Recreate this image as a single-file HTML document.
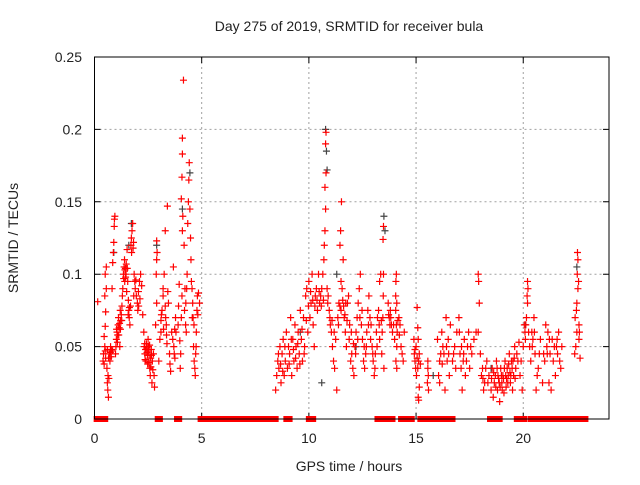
<!DOCTYPE html>
<html><head><meta charset="utf-8"><style>
body{margin:0;background:#fff;font-family:"Liberation Sans",sans-serif}
svg text{font-family:"Liberation Sans",sans-serif;font-size:14px;fill:#222}
</style></head><body>
<svg id="chart" width="640" height="480" xmlns="http://www.w3.org/2000/svg">
<rect width="640" height="480" fill="#fff"/>
<text x="349" y="31" text-anchor="middle">Day 275 of 2019, SRMTID for receiver bula</text>
<text x="349" y="471" text-anchor="middle">GPS time / hours</text>
<text transform="translate(18,238) rotate(-90)" text-anchor="middle">SRMTID / TECUs</text>
<g id="grid"></g>
<g id="ticks"></g>
<g id="zeros"></g>
<g id="blk"></g>
<g id="red"></g>
<rect x="94.5" y="57" width="514.5" height="362" fill="none" stroke="#000" stroke-width="1"/>
</svg>
<script>
const xTicks=[0,5,10,15,20];
const yTicks=[0,0.05,0.1,0.15,0.2,0.25];
const yTickLabels=["0","0.05","0.1","0.15","0.2","0.25"];
const zeroStart=[0.1,2.95,3.85,4.95,8.95,10.0,13.2,13.45,14.3,15.2,16.0,18.45,18.7,19.7,19.95,20.35,20.6,20.85,21.25,21.7,22.6];
const zeroEnd=[0.5,3.05,3.95,8.45,9.1,10.2,13.4,13.9,14.8,15.9,16.7,18.6,18.9,19.9,20.05,20.55,20.75,21.15,21.45,22.35,22.9];
const redPoints=[[0.15,.081],[0.4,.04],[0.42,.045],[0.45,.038],[0.48,.05],[0.5,.047],[0.52,.042],[0.45,.057],[0.5,.064],[0.52,.074],[0.48,.085],[0.55,.09],[0.5,.1],[0.55,.105],[0.58,.035],[0.6,.025],[0.62,.02],[0.65,.015],[0.63,.03],[0.67,.028],[0.7,.045],[0.72,.04],[0.75,.05],[0.78,.043],[0.8,.048],[0.82,.09],[0.85,.108],[0.88,.115],[0.9,.122],[0.92,.133],[0.95,.14],[0.93,.138],[0.98,.045],[1.0,.05],[1.02,.055],[1.05,.06],[1.08,.058],[1.1,.065],[1.12,.07],[1.15,.063],[1.18,.05],[1.2,.075],[1.22,.068],[1.25,.072],[1.28,.078],[1.3,.085],[1.32,.09],[1.35,.1],[1.38,.105],[1.4,.11],[1.42,.103],[1.45,.098],[1.48,.107],[1.5,.088],[1.52,.117],[1.55,.095],[1.58,.082],[1.6,.075],[1.62,.07],[1.65,.065],[1.68,.078],[1.7,.12],[1.72,.125],[1.75,.13],[1.78,.135],[1.8,.118],[1.82,.122],[1.85,.1],[1.88,.095],[1.9,.09],[1.95,.085],[2.0,.08],[2.02,.075],[2.05,.088],[2.1,.095],[2.15,.1],[2.2,.092],[2.25,.072],[2.3,.06],[2.32,.05],[2.35,.045],[2.38,.048],[2.4,.04],[2.42,.052],[2.45,.046],[2.48,.038],[2.5,.055],[2.52,.05],[2.55,.044],[2.58,.035],[2.6,.03],[2.62,.042],[2.65,.048],[2.68,.025],[2.7,.04],[2.75,.045],[2.78,.03],[2.8,.022],[2.85,.065],[2.9,.08],[2.88,.1],[2.9,.11],[2.92,.115],[2.9,.123],[3.0,.04],[3.05,.055],[3.1,.06],[3.1,.068],[3.15,.075],[3.2,.085],[3.2,.09],[3.25,.1],[3.3,.078],[3.32,.07],[3.35,.065],[3.38,.052],[3.3,.13],[3.4,.147],[3.42,.088],[3.45,.08],[3.5,.045],[3.52,.038],[3.55,.033],[3.6,.06],[3.65,.055],[3.68,.105],[3.7,.05],[3.72,.045],[3.75,.042],[3.78,.07],[3.8,.06],[3.9,.065],[3.92,.078],[3.95,.093],[3.98,.054],[4.0,.035],[4.02,.045],[4.05,.07],[4.08,.085],[4.1,.13],[4.12,.14],[4.05,.152],[4.08,.167],[4.1,.183],[4.1,.194],[4.15,.234],[4.18,.12],[4.2,.075],[4.25,.065],[4.28,.06],[4.3,.09],[4.32,.1],[4.35,.135],[4.38,.15],[4.4,.165],[4.42,.177],[4.45,.145],[4.48,.125],[4.5,.11],[4.52,.095],[4.55,.09],[4.58,.08],[4.6,.07],[4.62,.05],[4.65,.04],[4.68,.035],[4.7,.03],[4.72,.045],[4.75,.06],[4.78,.075],[4.8,.085],[4.85,.087],[4.9,.08],
[0.6,.048],[0.66,.042],[0.74,.046],[0.84,.047],[1.03,.062],[1.07,.053],[1.13,.058],[1.17,.066],[1.21,.062],[1.27,.068],[1.36,.097],[1.41,.095],[1.44,.104],[1.47,.1],[1.53,.104],[1.57,.072],[1.63,.077],[1.73,.115],[1.83,.085],[1.93,.096],[2.06,.078],[2.12,.083],[2.34,.052],[2.36,.041],[2.44,.049],[2.47,.044],[2.51,.047],[2.54,.039],[2.57,.051],[2.63,.036],[2.66,.044],[2.72,.034],[3.12,.072],[3.22,.062],[3.36,.058],[3.74,.062],[4.22,.09],[4.26,.08],[4.56,.07],[4.64,.065],[4.74,.05],[4.82,.072],
[8.45,.02],[8.5,.03],[8.55,.04],[8.6,.035],[8.65,.05],[8.7,.025],[8.75,.045],[8.8,.055],[8.85,.03],[8.9,.04],[8.95,.06],[9.0,.035],[9.05,.05],[9.1,.045],[9.15,.07],[9.2,.03],[9.25,.055],[9.3,.04],[9.35,.065],[9.4,.05],[9.45,.035],[9.5,.06],[9.55,.045],[9.6,.075],[9.65,.055],[9.7,.04],[9.75,.07],[9.8,.05],[9.85,.085],[9.9,.09],[9.95,.06],[10.0,.095],[10.05,.07],[10.1,.08],[10.15,.1],[10.2,.065],[10.25,.05],[10.3,.085],[10.35,.09],[10.4,.075],[10.45,.1],[10.5,.08],[10.55,.085],[10.6,.09],[10.65,.1],[10.7,.11],[10.72,.12],[10.75,.13],[10.78,.145],[10.75,.16],[10.8,.17],[10.78,.19],[10.8,.198],[10.85,.09],[10.9,.085],[10.95,.075],[11.0,.065],[11.05,.06],[11.1,.05],[11.15,.04],[11.2,.035],[11.25,.055],[11.3,.02],[11.35,.07],[11.4,.08],[11.45,.078],[11.5,.075],[11.5,.095],[11.55,.09],[11.45,.12],[11.48,.13],[11.52,.15],[11.6,.11],[11.65,.07],[11.7,.06],[11.75,.05],[11.8,.08],[11.85,.085],[11.9,.065],[11.95,.04],[12.0,.045],[12.05,.035],[12.1,.03],[12.15,.05],[12.2,.06],[12.25,.07],[12.3,.08],[12.35,.09],[12.4,.1],[12.45,.065],[12.5,.055],[12.55,.04],[12.6,.035],[12.65,.045],[12.7,.06],[12.75,.075],[12.8,.085],[12.85,.07],[12.9,.065],[12.95,.05],[13.0,.04],[13.05,.03],[13.1,.045],[13.15,.06],[13.2,.07],[13.25,.075],[13.3,.095],[13.35,.1],[13.3,.055],[13.4,.045],[13.45,.07],[13.47,.085],[13.48,.1],[13.46,.124],[13.48,.133],[13.5,.035],[13.7,.08],[13.75,.07],[13.8,.075],[13.85,.065],[13.9,.06],[14.0,.055],[14.05,.085],[14.08,.1],[14.06,.095],[14.1,.08],[14.05,.075],[14.08,.065],[14.1,.05],[14.06,.04],[14.1,.035],[14.2,.07],[14.25,.065],[14.3,.05],[14.35,.045],[14.4,.04],[14.45,.06],
[8.58,.045],[8.68,.038],[8.78,.033],[8.88,.05],[9.08,.038],[9.18,.055],[9.28,.048],[9.38,.042],[9.48,.052],[9.58,.038],[9.68,.062],[9.78,.045],[9.88,.068],[9.98,.078],[10.08,.088],[10.18,.082],[10.28,.078],[10.38,.082],[10.48,.088],[10.58,.078],[10.68,.082],[10.88,.08],[10.98,.07],[11.08,.068],[11.18,.06],[11.38,.065],[11.58,.082],[11.62,.078],[11.68,.072],[11.72,.08],[11.78,.068],[11.88,.055],[11.98,.06],[12.08,.052],[12.18,.045],[12.28,.055],[12.38,.07],[12.48,.075],[12.58,.05],[12.68,.05],[12.78,.065],[12.88,.055],[12.98,.045],[13.08,.035],[13.18,.05],[13.28,.065],[13.38,.068],[13.42,.06],[13.72,.072],[13.78,.065],[13.82,.07],[13.95,.065],[14.12,.06],[14.15,.068],[14.22,.058],
[14.9,.055],[14.92,.045],[14.95,.04],[14.98,.035],[15.0,.05],[15.02,.03],[15.05,.077],[15.08,.063],[15.1,.055],[15.12,.04],[15.15,.022],[15.1,.015],[15.12,.013],[15.15,.045],[15.2,.038],[15.55,.04],[15.55,.035],[15.57,.03],[15.53,.025],[15.58,.02],[16.0,.055],[16.05,.03],[16.1,.025],[16.1,.04],[16.2,.06],[16.25,.05],[16.3,.045],[16.35,.02],[16.4,.07],[16.45,.04],[16.5,.055],[16.55,.03],[16.6,.065],[16.7,.04],[16.75,.045],[16.8,.05],[16.85,.035],[16.9,.06],[17.0,.07],[17.05,.045],[17.1,.035],[17.15,.02],[17.2,.04],[17.25,.055],[17.3,.03],[17.4,.05],[17.5,.035],[17.6,.045],[17.7,.055],[17.8,.06],[17.9,.1],[17.92,.095],[17.95,.08],[17.9,.06],[18.0,.045],[18.05,.03],[18.1,.035],[18.15,.02],[18.2,.025],[18.3,.04],[18.4,.03],[18.5,.02],[18.55,.035],[18.6,.015],[18.65,.025],[18.7,.03],[18.75,.04],[18.8,.02],[18.85,.028],[18.9,.012],[18.95,.035],[19.0,.025],[19.05,.03],[19.1,.018],[19.15,.04],[19.2,.022],[19.25,.035],[19.3,.03],[19.35,.045],[19.4,.025],[19.45,.04],[19.5,.02],[19.55,.03],[19.6,.05],[19.65,.035],[19.7,.045],[19.8,.053],[19.85,.03],[19.9,.04],[19.95,.02],[20.0,.05],[20.05,.065],[20.1,.055],[20.15,.07],[20.2,.095],[20.22,.09],[20.18,.085],[20.2,.08],[20.25,.06],[20.3,.05],[20.35,.04],[20.4,.06],[20.45,.055],[20.5,.07],[20.55,.045],[20.6,.02],[20.65,.03],[20.7,.035],[20.75,.045],[20.8,.055],[20.9,.025],[21.0,.04],[21.05,.065],[21.1,.05],[21.15,.06],[21.2,.025],[21.25,.045],[21.3,.02],[21.35,.055],[21.4,.04],[21.5,.03],[21.55,.05],[21.6,.045],[21.7,.04],[21.75,.035],[21.8,.05],[22.4,.045],[22.45,.05],[22.5,.06],[22.42,.07],[22.5,.08],[22.55,.09],[22.52,.1],[22.55,.11],[22.53,.115],[22.6,.055],[22.65,.042],[22.6,.065],[22.58,.095],
[14.95,.048],[15.05,.042],[15.08,.035],[16.15,.045],[16.22,.038],[16.42,.05],[16.52,.045],[17.02,.06],[17.12,.05],[17.22,.045],[17.35,.04],[17.45,.06],[17.55,.05],[18.12,.028],[18.25,.035],[18.35,.025],[18.52,.028],[18.62,.032],[18.72,.022],[18.78,.035],[18.82,.03],[18.88,.025],[18.92,.022],[18.98,.03],[19.02,.02],[19.08,.028],[19.12,.035],[19.18,.03],[19.22,.028],[19.28,.025],[19.32,.038],[19.38,.032],[19.42,.03],[19.48,.035],[19.52,.04],[19.58,.042],[19.62,.028],[19.75,.04],[20.08,.06],[20.12,.065],[20.42,.05],[20.52,.06],[20.95,.045],[21.12,.045],[21.22,.055],[21.45,.05],[21.58,.055],[21.65,.06],[22.48,.075],[22.62,.06]];
const blackPoints=[[0.9,.115],[1.6,.12],[1.72,.135],[2.9,.12],[4.1,.145],[4.45,.17],[10.6,.025],[10.78,.2],[10.82,.185],[10.85,.172],[13.5,.14],[13.55,.13],[11.3,.1],[15.8,.03],[18.5,.035],[20.1,.065],[22.5,.105],[9.6,.06],[12.2,.05]];
const X=t=>94.5+t*(514.5/24), Y=v=>419-v*(362/0.25);
const NS="http://www.w3.org/2000/svg";
function mk(tag,attrs,parent){const e=document.createElementNS(NS,tag);for(const k in attrs)e.setAttribute(k,attrs[k]);parent.appendChild(e);return e;}
const grid=document.getElementById('grid'),ticks=document.getElementById('ticks');
xTicks.forEach((t,i)=>{
 if(t>0){const g=mk('line',{x1:X(t),x2:X(t),y1:57,y2:419,stroke:'#a0a0a0','stroke-dasharray':'2,3'},grid);
 
 }
 const a=mk('path',{d:`M${X(t)},419v-6M${X(t)},57v6`,stroke:'#000'},ticks);
 
 
 const l=mk('text',{x:X(t),y:443,'text-anchor':'middle'},ticks);l.textContent=String(t);
 
 
});
yTicks.forEach((v,i)=>{
 if(v>0&&v<0.25){const g=mk('line',{x1:94.5,x2:609,y1:Y(v),y2:Y(v),stroke:'#a0a0a0','stroke-dasharray':'2,3'},grid);
 
 }
 const a=mk('path',{d:`M94.5,${Y(v)}h6M609,${Y(v)}h-6`,stroke:'#000'},ticks);
 
 
 const l=mk('text',{x:82,y:Y(v)+5,'text-anchor':'end'},ticks);l.textContent=yTickLabels[i];
 
 
});
const zg=document.getElementById('zeros');
zeroStart.forEach((s,i)=>{
 const r=mk('rect',{x:X(s)-3,y:Y(0)-3,width:X(zeroEnd[i])-X(s)+6,height:6,fill:'#ff0000'},zg);
 
 
});
function plus(g,p,c){const x=X(p[0]),y=Y(p[1]);
 const e=mk('path',{d:`M${x-3.5},${y}h7M${x},${y-3.5}v7`,stroke:c,'stroke-width':1.2},g);
 return e;}
const bg=document.getElementById('blk');
blackPoints.forEach(p=>{const e=plus(bg,p,'#444');
 
 });
const rg=document.getElementById('red');
redPoints.forEach(p=>{const e=plus(rg,p,'#ff0000');
 
 });
</script>
</body></html>
